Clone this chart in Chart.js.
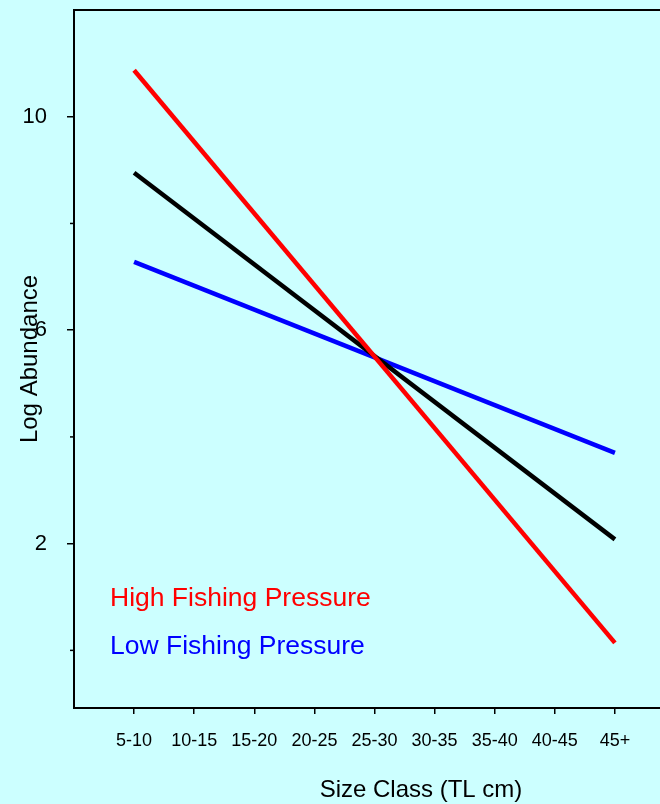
<!DOCTYPE html>
<html><head><meta charset="utf-8">
<script src="https://cdn.jsdelivr.net/npm/chart.js@4.4.1/dist/chart.umd.min.js"></script>
<style>html,body{margin:0;padding:0;background:#ccffff;overflow:hidden;}canvas{display:block;}</style>
</head><body>
<canvas id="c" width="660" height="804"></canvas>
<script>
const sizeClasses = ['5-10','10-15','15-20','20-25','25-30','30-35','35-40','40-45','45+'];
const highPressure = [10.87, null, null, null, null, null, null, null, 0.14];
const overall      = [8.95, null, null, null, null, null, null, null, 2.08];
const lowPressure  = [7.28, null, null, null, null, null, null, null, 3.70];
const yTickValues = [0, 2, 4, 6, 8, 10];
const yTickLabels = ['', '2', '', '6', '', '10'];
const legendLabels = ['High Fishing Pressure', 'Low Fishing Pressure'];
const xTitle = 'Size Class (TL cm)';
const yTitle = 'Log Abundance';

const FONT = "'Liberation Sans', Arial, sans-serif";
const toPoints = arr => sizeClasses.map((_, i) => ({x: i, y: arr[i]}));

const deco = {
  id: 'deco',
  beforeDraw(chart) {
    const c = chart.ctx;
    c.save();
    c.fillStyle = '#ccffff';
    c.fillRect(0, 0, chart.width, chart.height);
    c.restore();
  },
  afterDraw(chart) {
    const c = chart.ctx, a = chart.chartArea, ys = chart.scales.y;
    c.save();
    // top frame line
    c.strokeStyle = '#000'; c.lineWidth = 2;
    c.beginPath(); c.moveTo(a.left - 1, a.top); c.lineTo(a.right, a.top); c.stroke();
    // minor y ticks
    c.lineWidth = 1.5;
    yTickValues.forEach((v, i) => {
      if (yTickLabels[i] === '') {
        const p = ys.getPixelForValue(v);
        c.beginPath(); c.moveTo(a.left - 4, p); c.lineTo(a.left, p); c.stroke();
      }
    });
    // in-plot legend labels
    c.font = '26.5px ' + FONT;
    c.textBaseline = 'alphabetic';
    c.textAlign = 'left';
    c.fillStyle = '#ff0000';
    c.fillText(legendLabels[0], a.left + 36, a.bottom - 102.5);
    c.fillStyle = '#0000ff';
    c.fillText(legendLabels[1], a.left + 36, a.bottom - 54.5);
    // x axis title
    c.fillStyle = '#000';
    c.font = '24px ' + FONT;
    c.textAlign = 'center';
    c.fillText(xTitle, a.left + 347, chart.height - 7);
    c.restore();
  }
};

new Chart(document.getElementById('c'), {
  type: 'line',
  data: {
    datasets: [
      {label: legendLabels[0], data: toPoints(highPressure), borderColor: '#ff0000'},
      {label: 'All', data: toPoints(overall), borderColor: '#000000'},
      {label: legendLabels[1], data: toPoints(lowPressure), borderColor: '#0000ff'}
    ]
  },
  options: {
    responsive: false,
    animation: false,
    spanGaps: true,
    layout: {padding: {top: 10, right: 0, bottom: 0, left: 0}},
    elements: {
      line: {borderWidth: 4.5, borderCapStyle: 'butt', tension: 0},
      point: {radius: 0, hoverRadius: 0}
    },
    plugins: {legend: {display: false}, tooltip: {enabled: false}},
    scales: {
      x: {
        type: 'linear',
        min: -1.0,
        max: 8.75,
        afterBuildTicks: s => { s.ticks = sizeClasses.map((_, i) => ({value: i})); },
        afterFit: s => { s.height = 96; s.paddingLeft = 0; s.paddingRight = 0; },
        grid: {display: true, drawOnChartArea: false, drawTicks: true, tickLength: 6, color: '#000', lineWidth: 1.5},
        border: {display: true, color: '#000', width: 2},
        ticks: {
          autoSkip: false, maxRotation: 0, padding: 16, color: '#000',
          font: {family: FONT, size: 18},
          callback: v => sizeClasses[v] ?? ''
        }
      },
      y: {
        min: -1.08,
        max: 12,
        afterBuildTicks: s => { s.ticks = yTickValues.map(v => ({value: v})); },
        afterFit: s => { s.width = 74; s.paddingTop = 0; s.paddingBottom = 0; },
        grid: {
          display: true, drawOnChartArea: false, drawTicks: true, tickLength: 7,
          color: '#000', lineWidth: 1.5,
          tickColor: ctx => (yTickLabels[yTickValues.indexOf(ctx.tick && ctx.tick.value)] ? '#000' : 'rgba(0,0,0,0)')
        },
        border: {display: true, color: '#000', width: 2},
        title: {display: true, text: yTitle, color: '#000', font: {family: FONT, size: 24}, padding: {top: 16, bottom: 0}},
        ticks: {
          autoSkip: false, padding: 20, color: '#000',
          font: {family: FONT, size: 22},
          callback: v => { const i = yTickValues.indexOf(v); return i >= 0 ? yTickLabels[i] : ''; }
        }
      }
    }
  },
  plugins: [deco]
});
</script>
</body></html>
